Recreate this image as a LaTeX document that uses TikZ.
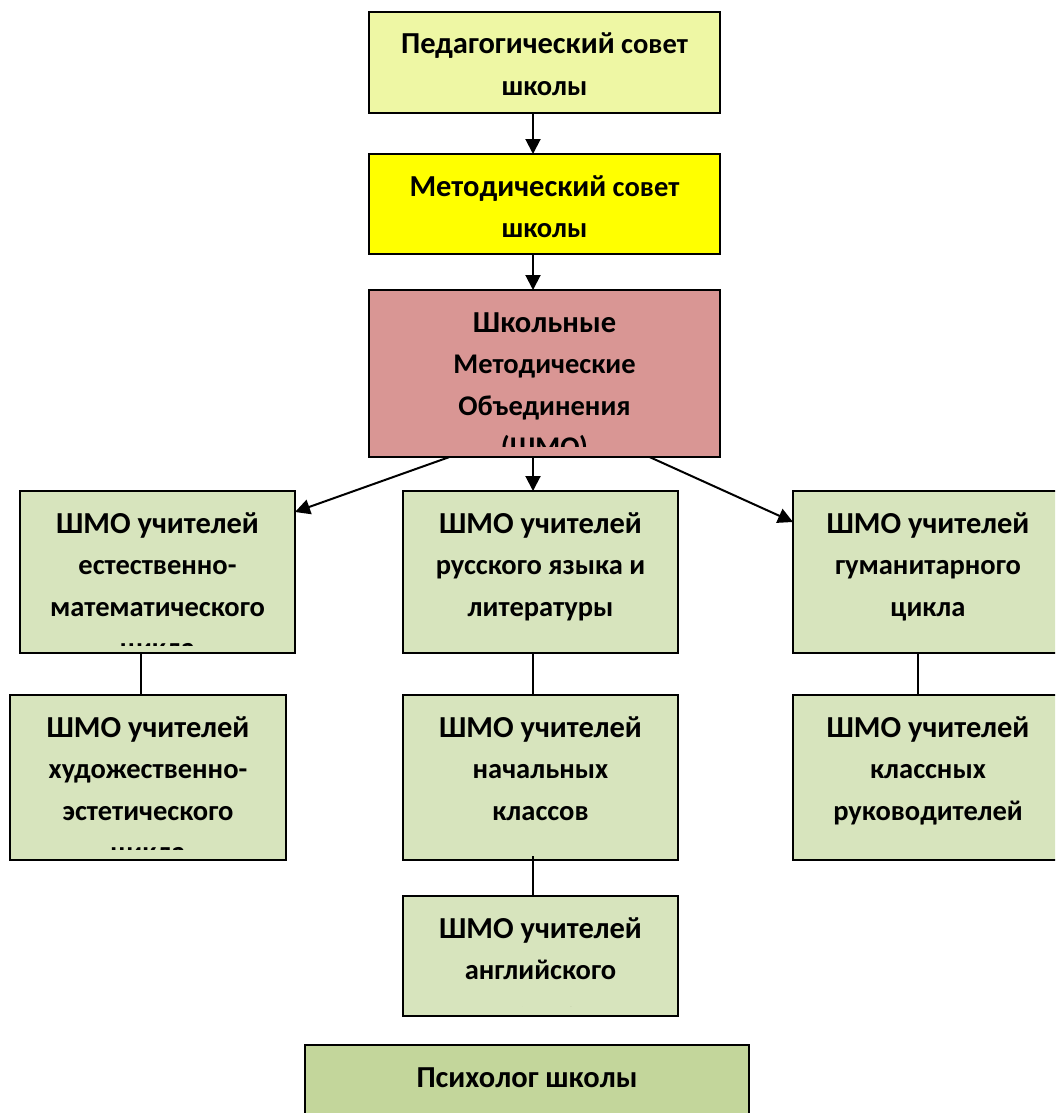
\documentclass[tikz,border=0pt]{standalone}
\usepackage{fontspec}
\setmainfont{Carlito}
\usetikzlibrary{arrows.meta}
\definecolor{pedsovet}{RGB}{238,247,164}
\definecolor{metsovet}{RGB}{255,255,0}
\definecolor{shmocvet}{RGB}{217,150,148}
\definecolor{uchit}{RGB}{215,228,189}
\definecolor{psiholog}{RGB}{195,214,155}
\newcommand{\bol}{\fontsize{30.5}{41.5}\selectfont}
\newcommand{\mal}{\fontsize{28.5}{41.5}\selectfont}
\newcommand{\blok}[8]{% imya, x, y, shirina, vysota, cvet, obrez, tekst
\node[blok=#6,minimum width=#4pt,minimum height=#5pt] (#1) at (#2,#3) {};
\begin{scope}
\clip ([yshift=#7pt]#1.south west) rectangle (#1.north east);
\node[tekst,text width=#4pt-10pt] at ([yshift=-42pt]#1.north) {#8};
\end{scope}
}

\begin{document}
\begin{tikzpicture}[x=1pt,y=-1pt,
  blok/.style={draw,line width=2pt,fill=#1,anchor=north west,inner sep=0pt,outer sep=0pt},
  tekst/.style={font=\bfseries\mal,align=flush center,inner sep=0pt,anchor=base},
  strelka/.style={line width=2pt,-{Triangle[width=15pt,length=15pt]}},
  liniya/.style={line width=2pt}]
\useasboundingbox (0,0) rectangle (1055,1113);
\clip (0,0) rectangle (1055,1113);
%
\blok{ped}{369}{12}{351}{101}{pedsovet}{10}{{\bol Педагогический} совет\\школы}
\blok{met}{369}{154}{351}{100}{metsovet}{10}{{\bol Методический} совет\\школы}
\blok{shmo}{369}{290}{351}{167}{shmocvet}{11}{{\bol Школьные}\\Методические\\Объединения\\(ШМО)}
%
\blok{estmat}{20}{491}{275}{162}{uchit}{8}{{\bol ШМО учителей}\\естественно-\\математического\\цикла}
\blok{russ}{403}{491}{275}{162}{uchit}{10}{{\bol ШМО учителей}\\русского языка и\\литературы}
\blok{gum}{793}{491}{270}{162}{uchit}{10}{{\bol ШМО учителей}\\гуманитарного\\цикла}
%
\blok{hudest}{10}{695}{276}{165}{uchit}{11}{{\bol ШМО учителей}\\художественно-\\эстетического\\цикла}
\blok{nach}{403}{695}{275}{165}{uchit}{10}{{\bol ШМО учителей}\\начальных\\классов}
\blok{klruk}{793}{695}{270}{165}{uchit}{10}{{\bol ШМО учителей}\\классных\\руководителей}
%
\blok{angl}{403}{896}{275}{120}{uchit}{9.5}{{\bol ШМО учителей}\\английского\\языка}
\blok{psih}{305}{1045}{444}{80}{psiholog}{0}{{\bol Психолог школы}}
%
\coordinate (os) at (533,0);
\coordinate (osL) at (141,0);
\coordinate (osR) at (918,0);
\draw[strelka] (ped.south -| os) -- (met.north -| os);
\draw[strelka] (met.south -| os) -- (shmo.north -| os);
\draw[strelka] (shmo.south -| os) -- (russ.north -| os);
\draw[strelka] ([xshift=-95pt]shmo.south) -- ([yshift=-21pt]estmat.north east);
\draw[strelka] ([xshift=105pt]shmo.south) -- ([yshift=-31pt]gum.north west);
%
\draw[liniya] (estmat.south -| osL) -- (hudest.north -| osL);
\draw[liniya] (russ.south -| os) -- (nach.north -| os);
\draw[liniya] (gum.south -| osR) -- (klruk.north -| osR);
\draw[liniya] ([yshift=4pt]nach.south -| os) -- (angl.north -| os);
\end{tikzpicture}
\end{document}
